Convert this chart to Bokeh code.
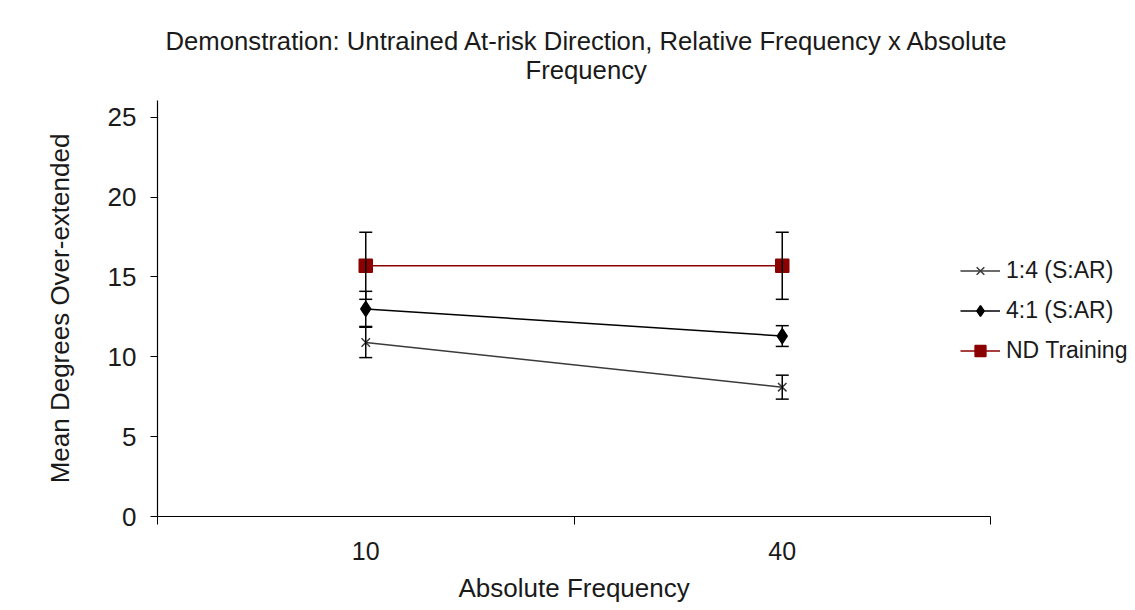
from bokeh.plotting import figure
from bokeh.models import (ColumnDataSource, Whisker, TeeHead, Legend, LegendItem,
                          FixedTicker, Range1d, Title)
from bokeh.embed import file_html
from bokeh.resources import INLINE

# ---- data ----
frequencies = ["10", "40"]
series_names = ["1:4 (S:AR)", "4:1 (S:AR)", "ND Training"]
ratio_1_4 = [10.9, 8.1]
ratio_1_4_err = [0.95, 0.75]
ratio_4_1 = [13.0, 11.3]
ratio_4_1_err = [1.1, 0.65]
nd_training = [15.7, 15.7]
nd_training_err = [2.1, 2.1]
y_ticks = [0, 5, 10, 15, 20, 25]

FONT = "Liberation Sans"
TXT = "#1a1a1a"

n = len(frequencies)
xpos = [i + 0.5 for i in range(n)]

# plot frame spans 157..1135 px; the axis itself ends at x = n (990 px)
px_per_unit = (990 - 157) / n
x_end = (1135 - 157) / px_per_unit

p = figure(width=1135, height=610, output_backend="svg", toolbar_location=None,
           x_range=Range1d(0, x_end), y_range=Range1d(0, 26.05),
           min_border_left=157, min_border_right=0, min_border_top=100,
           min_border_bottom=94)
p.outline_line_color = None
p.xgrid.visible = False
p.ygrid.visible = False
p.background_fill_color = "white"
p.border_fill_color = "white"

# titles (each later one is placed further from the frame)
p.add_layout(Title(text=" ", text_font_size="13px", standoff=0), "above")
p.add_layout(Title(text="Frequency", align="left", offset=368, text_font=FONT,
                   text_font_size="25.7px", text_font_style="normal",
                   text_color=TXT, standoff=0, text_line_height=1.0), "above")
p.add_layout(Title(text="Demonstration: Untrained At-risk Direction, Relative Frequency x Absolute",
                   align="left", offset=8, text_font=FONT, text_font_size="25.7px",
                   text_font_style="normal", text_color=TXT, standoff=-2,
                   text_line_height=1.0), "above")

# x axis
xa = p.xaxis[0]
xa.bounds = (0, n)
xa.ticker = FixedTicker(ticks=xpos, minor_ticks=list(range(n + 1)))
xa.major_label_overrides = {x: f for x, f in zip(xpos, frequencies)}
xa.major_tick_out = 0
xa.major_tick_in = 0
xa.minor_tick_out = 8
xa.minor_tick_in = 0
xa.minor_tick_line_color = "black"
xa.axis_line_color = "black"
xa.axis_line_width = 1.2
xa.major_label_text_font = FONT
xa.major_label_text_font_size = "25px"
xa.major_label_text_color = TXT
xa.major_label_standoff = 17

# x-axis title, centred under the axis (not the wider frame)
p.add_layout(Title(text="Absolute Frequency", align="left", offset=301,
                   text_font=FONT, text_font_size="26px", text_font_style="normal",
                   text_color=TXT, standoff=16, text_line_height=1.0), "below")

# y axis
ya = p.yaxis[0]
ya.ticker = FixedTicker(ticks=y_ticks)
ya.minor_tick_line_color = None
ya.major_tick_out = 7
ya.major_tick_in = 0
ya.major_tick_line_color = "black"
ya.axis_line_color = "black"
ya.axis_line_width = 1.2
ya.major_label_text_font = FONT
ya.major_label_text_font_size = "26px"
ya.major_label_text_color = TXT
ya.major_label_standoff = 14
ya.axis_label = "Mean Degrees Over-extended"
ya.axis_label_text_font = FONT
ya.axis_label_text_font_size = "26px"
ya.axis_label_text_font_style = "normal"
ya.axis_label_text_color = TXT
ya.axis_label_standoff = 30

styles = [
    dict(y=ratio_1_4, e=ratio_1_4_err, color="#3a3a3a", marker="x", size=12),
    dict(y=ratio_4_1, e=ratio_4_1_err, color="#000000", marker="diamond", size=15),
    dict(y=nd_training, e=nd_training_err, color="#8B0000", marker="square", size=13),
]

items = []
for name, st in zip(series_names, styles):
    src = ColumnDataSource(dict(
        x=xpos, y=st["y"],
        upper=[v + e for v, e in zip(st["y"], st["e"])],
        lower=[v - e for v, e in zip(st["y"], st["e"])],
    ))
    w = Whisker(source=src, base="x", upper="upper", lower="lower",
                line_color="black", line_width=1.5,
                upper_head=TeeHead(size=13, line_color="black", line_width=1.5),
                lower_head=TeeHead(size=13, line_color="black", line_width=1.5),
                level="glyph")
    p.add_layout(w)
    ln = p.line("x", "y", source=src, line_color=st["color"], line_width=1.5)
    sc = p.scatter("x", "y", source=src, marker=st["marker"], size=st["size"],
                   line_color=st["color"], fill_color=st["color"], line_width=1.5)
    items.append(LegendItem(label=name, renderers=[ln, sc]))

legend = Legend(items=items, location=(803, 152), orientation="vertical",
                label_text_font=FONT, label_text_font_size="23px",
                label_text_color=TXT, glyph_width=40, glyph_height=27,
                label_height=27, spacing=13, padding=0, margin=0,
                label_standoff=6, border_line_color=None,
                background_fill_alpha=0)
p.add_layout(legend, "center")

open("out.html", "w").write(file_html(p, INLINE))
